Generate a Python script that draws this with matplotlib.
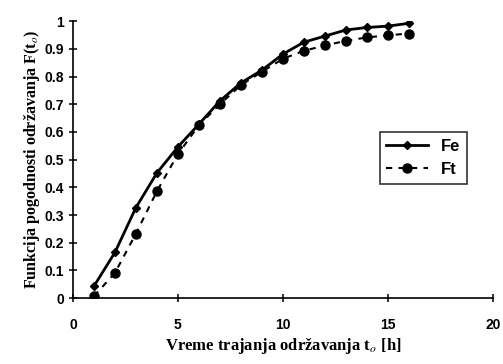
import numpy as np
import matplotlib.pyplot as plt

plt.rcParams['mathtext.fontset'] = 'stix'

t = [1, 2, 3, 4, 5, 6, 7, 8, 9, 10, 11, 12, 13, 14, 15, 16]
fe = [0.043, 0.165, 0.327, 0.452, 0.546, 0.628, 0.712, 0.777, 0.823, 0.881,
      0.924, 0.946, 0.968, 0.977, 0.982, 0.992]
ft = [0.007, 0.091, 0.233, 0.386, 0.520, 0.624, 0.700, 0.769, 0.817, 0.864,
      0.893, 0.912, 0.929, 0.941, 0.949, 0.955]

fig = plt.figure(figsize=(5.03, 3.64), dpi=100)
ax = fig.add_axes([0.145, 0.181, 0.835, 0.761])

ax.plot(t, fe, '-D', color='black', lw=2, ms=4, label='Fe')
ax.plot(t, ft, '--o', color='black', lw=1.5, ms=6.5, label='Ft', dashes=(3, 3))

ax.set_xlim(0, 20)
ax.set_ylim(0, 1)
ax.set_xticks([0, 5, 10, 15, 20])
ax.set_yticks(np.arange(0, 1.01, 0.1))
ax.set_yticklabels(['0', '0.1', '0.2', '0.3', '0.4', '0.5', '0.6', '0.7', '0.8', '0.9', '1'])

for s in ['top', 'right']:
    ax.spines[s].set_visible(False)
for s in ['left', 'bottom']:
    ax.spines[s].set_linewidth(1.2)

ax.tick_params(direction='inout', length=6, width=1.1, labelsize=10)
for lab in ax.get_xticklabels() + ax.get_yticklabels():
    lab.set_family('Liberation Sans')
    lab.set_fontweight('bold')
ax.tick_params(axis='x', pad=11)

ax.set_xlabel('Vreme trajanja održavanja t$_o$ [h]', family='Liberation Serif',
              fontweight='bold', fontsize=12, labelpad=3)
ax.set_ylabel('Funkcija pogodnosti održavanja F(t$_o$)', family='Liberation Serif',
              fontweight='bold', fontsize=11.5, labelpad=2)

leg = ax.legend(loc='upper left', bbox_to_anchor=(0.73, 0.6), fancybox=False,
                edgecolor='black', prop={'family': 'Liberation Sans', 'weight': 'bold', 'size': 12},
                handlelength=2.5, borderaxespad=0)
leg.get_frame().set_linewidth(1.2)

fig.savefig('out.png', dpi=100)
